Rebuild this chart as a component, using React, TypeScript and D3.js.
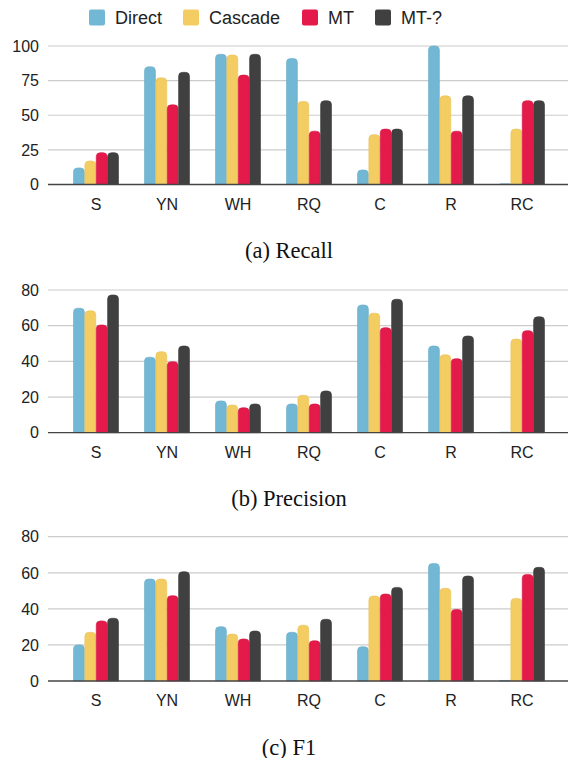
import React from "react";
import * as d3 from "d3";

const categories = ["S", "YN", "WH", "RQ", "C", "R", "RC"];
const seriesNames = ["Direct", "Cascade", "MT", "MT-?"];
const seriesColors = ["#72b7d4", "#f4cd62", "#e31a4a", "#404040"];

const recallDirect = [12, 85, 94, 91, 10.5, 100, 0.5];
const recallCascade = [17, 77, 93.5, 60, 36, 64, 40];
const recallMT = [23, 57.5, 79, 38.5, 40, 38.5, 60.5];
const recallMTq = [23, 81, 94, 60.5, 40, 64, 60.5];

const precisionDirect = [69.8, 42.3, 17.8, 16.1, 71.6, 48.6, 0.3];
const precisionCascade = [68.3, 45.4, 15.5, 21, 67, 43.7, 52.5];
const precisionMT = [60.4, 39.8, 14, 16.1, 58.9, 41.5, 57.2];
const precisionMTq = [77.2, 48.6, 16.1, 23.4, 74.8, 54.2, 65];

const f1Direct = [20, 56.5, 30.1, 27, 19, 65.2, 0.3];
const f1Cascade = [27, 56.5, 26, 30.9, 47.1, 51.4, 45.8];
const f1MT = [33.3, 47.3, 23.3, 22.3, 48.2, 39.7, 59.1];
const f1MTq = [34.8, 60.6, 27.7, 34.2, 51.9, 58.2, 63];

const recallTicks = [0, 25, 50, 75, 100];
const prfTicks = [0, 20, 40, 60, 80];

const panels = [
  { caption: "(a) Recall", max: 100, ticks: recallTicks, series: [recallDirect, recallCascade, recallMT, recallMTq], y0: 184.5, yTop: 46 },
  { caption: "(b) Precision", max: 80, ticks: prfTicks, series: [precisionDirect, precisionCascade, precisionMT, precisionMTq], y0: 432.7, yTop: 290 },
  { caption: "(c) F1", max: 80, ticks: prfTicks, series: [f1Direct, f1Cascade, f1MT, f1MTq], y0: 681, yTop: 536.7 },
];

const W = 570;
const H = 758;
const gridLeft = 48;
const gridRight = 568;
const sans = "Arial, 'Liberation Sans', Helvetica, sans-serif";
const serif = "'Times New Roman', 'Liberation Serif', serif";

function topRoundedRect(x: number, y: number, w: number, h: number, r: number) {
  const rr = Math.max(0, Math.min(r, w / 2, h));
  return `M${x},${y + h}V${y + rr}Q${x},${y} ${x + rr},${y}H${x + w - rr}Q${x + w},${y} ${x + w},${y + rr}V${y + h}Z`;
}

const x0 = d3.scaleBand<string>().domain(categories).range([60.5, 557.5]).paddingInner(26 / 71).paddingOuter(13 / 71);
const x1 = d3.scaleBand<string>().domain(seriesNames).range([0, x0.bandwidth()]).paddingInner(0.04);

function Panel({ p }: { p: typeof panels[number] }) {
  const y = d3.scaleLinear().domain([0, p.max]).range([p.y0, p.yTop]);
  return (
    <g>
      {p.ticks.map((t) => (
        <g key={t}>
          {t !== 0 && (
            <line x1={gridLeft} x2={gridRight} y1={y(t)} y2={y(t)} stroke="#cccccc" strokeWidth={1.2} />
          )}
          <text x={39} y={y(t)} dy="0.36em" textAnchor="end" fontFamily={sans} fontSize={16} fill="#222">
            {t}
          </text>
        </g>
      ))}
      {categories.map((c, ci) => (
        <g key={c}>
          {p.series.map((vals, si) => {
            const v = vals[ci];
            const bx = (x0(c) as number) + (x1(seriesNames[si]) as number);
            const bw = x1.bandwidth();
            const top = y(v);
            const h = p.y0 - top;
            return (
              <path
                key={si}
                d={topRoundedRect(bx, top, bw, h, 4)}
                fill={seriesColors[si]}
                stroke={d3.color(seriesColors[si])!.darker(0.15).toString()}
                strokeWidth={0.6}
              />
            );
          })}
          <text x={(x0(c) as number) + x0.bandwidth() / 2} y={p.y0 + 25} textAnchor="middle" fontFamily={sans} fontSize={16} fill="#222">
            {c}
          </text>
        </g>
      ))}
      <line x1={gridLeft} x2={gridRight} y1={p.y0} y2={p.y0} stroke="#444" strokeWidth={1.3} />
      <text x={289} y={p.y0 + 73.5} textAnchor="middle" fontFamily={serif} fontSize={22.5} fill="#111">
        {p.caption}
      </text>
    </g>
  );
}

const legendX = [89, 183, 302, 375];

export default function App() {
  return (
    <svg width={W} height={H} style={{ position: "absolute", left: 0, top: 0, background: "#fff" }}>
      {seriesNames.map((s, i) => (
        <g key={s}>
          <rect x={legendX[i]} y={9.5} width={16} height={16} rx={2} fill={seriesColors[i]} />
          <text x={legendX[i] + 26} y={24} fontFamily={sans} fontSize={18} fill="#222">
            {s}
          </text>
        </g>
      ))}
      {panels.map((p) => (
        <Panel key={p.caption} p={p} />
      ))}
    </svg>
  );
}
